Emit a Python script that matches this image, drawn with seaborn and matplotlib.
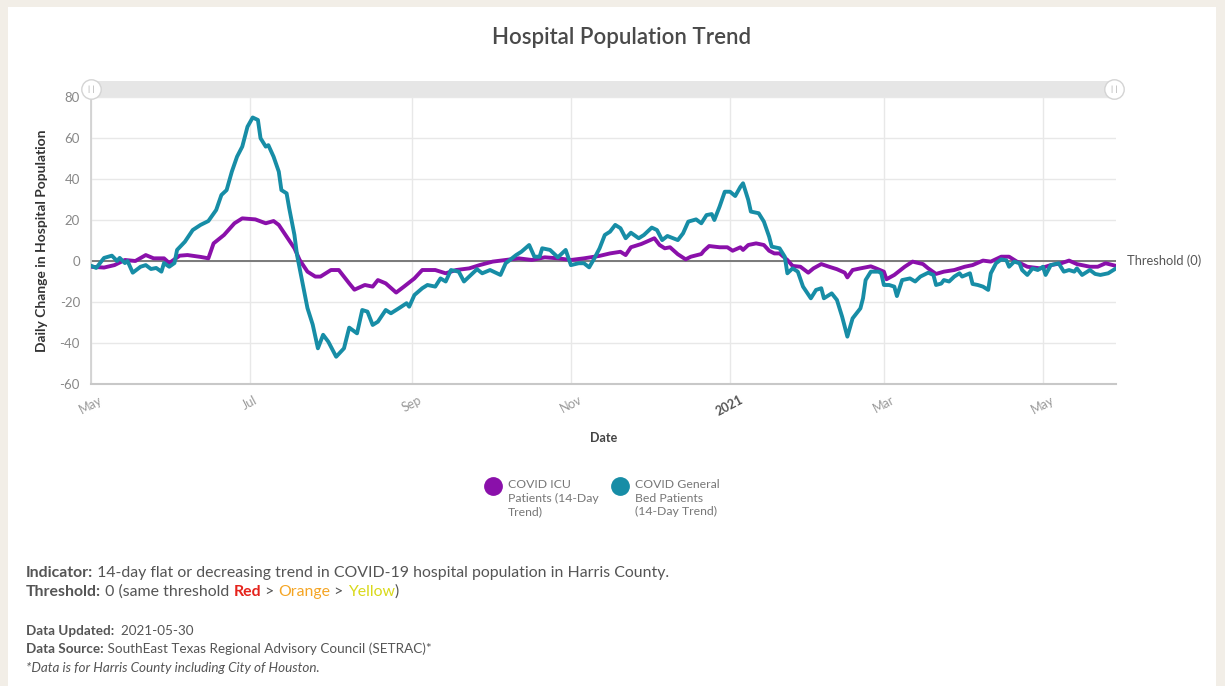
import pandas as pd
import matplotlib
matplotlib.use("Agg")
import matplotlib.pyplot as plt
import matplotlib.dates as mdates
from matplotlib.lines import Line2D
from matplotlib.patches import Rectangle
import seaborn as sns

# days after 2020-05-01
icu_days = [0, 5, 9, 13, 17, 21, 24, 28, 30, 34, 37, 42, 45, 47, 51, 55, 58, 63, 67, 70,
            72, 75, 78, 80, 83, 86, 88, 92, 95, 99, 101, 105, 108, 110, 113, 117, 120, 124, 127, 132,
            136, 140, 145, 149, 154, 159, 164, 169, 174, 179, 184, 189, 195, 199, 203, 205, 207, 211, 213, 216,
            218, 220, 222, 225, 228, 230, 234, 235, 237, 241, 244, 246, 249, 250, 252, 255, 258, 260, 262, 264,
            267, 269, 272, 275, 277, 280, 283, 286, 289, 290, 292, 295, 299, 301, 304, 305, 308, 312, 315, 319,
            321, 324, 327, 331, 335, 338, 342, 345, 349, 352, 355, 359, 364, 368, 372, 375, 378, 383, 386, 389,
            393]
icu_vals = [-2.8, -3.2, -2.0, 0.5, 0.0, 2.9, 1.3, 1.3, -1.0, 2.6, 2.9, 2.0, 1.3, 8.6, 12.7, 18.4, 20.8, 20.3, 18.4, 19.5,
            17.6, 11.9, 6.2, 0.5, -5.2, -7.6, -7.6, -4.4, -4.4, -10.9, -14.0, -11.7, -12.5, -9.3, -10.9, -15.4, -12.5, -8.5, -4.4, -4.4,
            -6.0, -4.4, -3.6, -2.0, -0.3, 0.5, 1.3, 0.5, 1.8, 1.3, 0.5, 1.3, 2.5, 3.7, 4.5, 2.9, 6.7, 8.3, 9.4, 11.1,
            7.8, 6.2, 6.7, 3.3, 0.8, 2.1, 3.4, 5.0, 7.3, 6.7, 6.7, 5.0, 6.7, 5.4, 7.8, 8.6, 7.8, 5.0, 3.7, 3.7,
            0.5, -2.4, -2.8, -5.7, -3.6, -1.5, -2.8, -4.0, -5.7, -8.0, -4.4, -3.6, -2.6, -3.6, -5.2, -8.9, -6.8, -2.8, -0.3, -1.5,
            -3.6, -6.3, -5.2, -4.4, -2.8, -2.0, 0.2, -0.3, 2.1, 2.1, -0.3, -2.8, -3.6, -2.0, -1.1, 0.2, -1.5, -2.8, -2.8, -1.1,
            -2.4]

gen_days = [0, 2, 5, 8, 10, 11, 13, 14, 16, 19, 21, 23, 25, 27, 28, 30, 32, 33, 36, 39,
            42, 45, 48, 50, 52, 54, 56, 58, 60, 62, 64, 65, 67, 68, 70, 72, 73, 75, 76, 78,
            79, 81, 83, 85, 87, 89, 91, 94, 97, 99, 102, 104, 106, 108, 110, 113, 115, 118, 121, 122,
            124, 127, 129, 132, 134, 136, 138, 141, 143, 145, 148, 150, 153, 157, 159, 163, 165, 168, 170, 172,
            173, 176, 179, 182, 184, 187, 189, 191, 193, 195, 197, 199, 201, 203, 205, 207, 210, 212, 215, 217,
            219, 221, 225, 227, 229, 232, 234, 236, 238, 239, 241, 243, 245, 247, 249, 250, 252, 253, 256, 258,
            260, 261, 264, 266, 267, 269, 271, 273, 276, 278, 280, 281, 284, 286, 288, 290, 292, 295, 296, 297,
            299, 302, 303, 304, 306, 308, 309, 311, 314, 316, 318, 321, 323, 324, 326, 327, 329, 331, 333, 334,
            337, 338, 340, 342, 344, 345, 347, 349, 351, 352, 354, 356, 357, 359, 361, 363, 365, 366, 368, 371,
            373, 375, 377, 378, 380, 383, 385, 387, 390, 393]
gen_vals = [-2.3, -3.4, 1.5, 2.6, 0.0, 1.5, -1.0, 0.0, -5.7, -2.8, -2.0, -3.9, -3.4, -5.2, -1.0, -2.8, -1.0, 5.4, 9.4, 15.1,
            17.6, 19.5, 24.9, 32.2, 34.6, 43.6, 50.9, 55.8, 65.5, 70.0, 68.8, 59.9, 55.8, 56.5, 50.9, 43.6, 34.6, 33.0, 25.7, 12.7,
            2.9, -10.0, -23.0, -31.0, -42.6, -36.0, -39.4, -46.7, -42.6, -32.5, -35.3, -23.9, -24.7, -31.2, -29.6, -23.9, -25.5, -23.1, -20.6, -22.3,
            -16.6, -13.3, -11.7, -12.5, -8.5, -10.0, -4.4, -5.2, -10.0, -7.6, -4.0, -6.0, -4.4, -6.8, -1.1, 2.9, 4.5, 7.8, 2.1, 2.1,
            6.2, 5.4, 1.8, 5.4, -2.0, -1.1, -1.1, -3.1, 1.3, 6.2, 12.7, 14.3, 17.6, 16.0, 11.1, 13.8, 11.1, 12.7, 16.3, 15.1,
            10.2, 12.2, 10.2, 13.5, 19.2, 20.3, 18.4, 22.4, 22.9, 20.0, 26.5, 33.8, 33.8, 31.7, 36.2, 37.9, 29.8, 24.1, 23.3, 19.2,
            11.9, 7.0, 6.2, 2.1, -6.0, -3.6, -5.2, -12.5, -18.2, -14.1, -13.3, -18.2, -15.8, -19.0, -27.2, -36.9, -28.0, -23.1, -18.2, -9.3,
            -5.2, -5.2, -6.0, -11.7, -11.7, -12.5, -17.1, -9.3, -8.5, -10.0, -7.6, -5.7, -6.8, -11.7, -11.0, -9.3, -10.0, -7.6, -6.0, -7.6,
            -6.0, -11.2, -11.7, -12.5, -14.1, -6.0, -1.1, 0.8, 0.3, -2.8, -0.3, -1.1, -4.4, -6.8, -3.6, -4.4, -2.8, -6.8, -2.0, -1.1,
            -5.2, -4.4, -5.2, -3.6, -6.8, -4.4, -6.3, -6.8, -6.0, -3.6]

series_names = ["COVID ICU Patients (14-Day Trend)", "COVID General Bed Patients (14-Day Trend)"]
legend_labels = ["COVID ICU\nPatients (14-Day\nTrend)", "COVID General\nBed Patients\n(14-Day Trend)"]
series_colors = ["#8a10aa", "#178da6"]
y_ticks = [-60, -40, -20, 0, 20, 40, 60, 80]
x_tick_labels = ["May", "Jul", "Sep", "Nov", "2021", "Mar", "May"]

start = pd.Timestamp("2020-05-01")
df = pd.concat([
    pd.DataFrame({"date": start + pd.to_timedelta(icu_days, unit="D"), "value": icu_vals, "series": series_names[0]}),
    pd.DataFrame({"date": start + pd.to_timedelta(gen_days, unit="D"), "value": gen_vals, "series": series_names[1]}),
])

sns.set_theme(style="white")
plt.rcParams["font.family"] = ["Lato", "DejaVu Sans"]
plt.rcParams["axes.unicode_minus"] = False

W, H = 1225, 686
fig = plt.figure(figsize=(W / 100, H / 100), dpi=100, facecolor="#f2eee7")
fig.patches.append(Rectangle((8 / W, 0), (1216 - 8) / W, 1 - 7 / H, transform=fig.transFigure,
                             facecolor="white", edgecolor="none", zorder=-10))

ax = fig.add_axes([91 / W, 1 - 384 / H, (1116 - 91) / W, (384 - 97) / H])
ax.set_facecolor("white")

sns.lineplot(data=df, x="date", y="value", hue="series", palette=series_colors,
             hue_order=series_names, estimator=None, linewidth=2.8, legend=False, ax=ax, zorder=3)

ax.axhline(0, color="#7a7a7a", lw=1.4, zorder=2)
ax.annotate("Threshold (0)", xy=(1, 0), xycoords=("axes fraction", "data"), xytext=(8, 0),
            textcoords="offset points", va="center", ha="left", fontsize=9.3, color="#555555")

ax.set_ylim(-60, 80)
ax.set_yticks(y_ticks)
ax.set_xlim(start, start + pd.Timedelta(days=393))
ax.xaxis.set_major_locator(mdates.MonthLocator(bymonth=[1, 3, 5, 7, 9, 11]))
ax.set_xticklabels(x_tick_labels)
ax.tick_params(axis="x", colors="#999999", labelsize=9, length=5, width=1, color="#cccccc", pad=2)
ax.tick_params(axis="y", colors="#888888", labelsize=9.5, length=5, width=1, color="#dddddd", pad=3)
for lab in ax.get_xticklabels():
    lab.set_rotation(28)
    lab.set_ha("center")
    if lab.get_text() == "2021":
        lab.set_fontweight("bold")
        lab.set_color("#555555")

ax.grid(True, color="#e8e8e8", lw=1)
for s in ["top", "right"]:
    ax.spines[s].set_visible(False)
ax.spines["left"].set_color("#d0d0d0")
ax.spines["bottom"].set_color("#c8c8c8")
ax.spines["bottom"].set_linewidth(1.5)

ax.set_xlabel("Date", fontsize=9, fontweight="bold", color="#444444", labelpad=10)
ax.set_ylabel("Daily Change in Hospital Population", fontsize=10, fontweight="bold", color="#333333", labelpad=8)

# scroll bar above the plot
fig.patches.append(Rectangle((91 / W, 1 - 97 / H), (1116 - 91) / W, 16 / H, transform=fig.transFigure,
                             facecolor="#e6e6e6", edgecolor="none"))
for hx in [91, 1114]:
    fig.add_artist(Line2D([hx / W], [1 - 89 / H], transform=fig.transFigure, marker="o", markersize=14,
                          markerfacecolor="white", markeredgecolor="#d4d4d4", markeredgewidth=1))
    fig.text(hx / W, 1 - 89 / H, "| |", ha="center", va="center", fontsize=6, color="#aaaaaa")

fig.text(622 / W, 1 - 37 / H, "Hospital Population Trend", ha="center", va="center",
         fontsize=16, fontweight="semibold", color="#4a4a4a")

# legend
for i, (lab, col) in enumerate(zip(legend_labels, series_colors)):
    cx = [493, 620][i]
    fig.add_artist(Line2D([cx / W], [1 - 486 / H], transform=fig.transFigure, marker="o",
                          markersize=12.5, color=col, linestyle="none"))
    fig.text((cx + 15) / W, 1 - 479 / H, lab, ha="left", va="top", fontsize=8.8,
             color="#777777", linespacing=1.3)

# footer text, pieces chained left to right
grey = "#555555"
rows = [
    ([("Indicator:", grey, "bold", "normal"),
      (" 14-day flat or decreasing trend in COVID-19 hospital population in Harris County.", grey, "normal", "normal")], 580, 11.4),
    ([("Threshold:", grey, "bold", "normal"), (" 0 (same threshold ", grey, "normal", "normal"),
      ("Red", "#e5231c", "bold", "normal"), (" > ", grey, "normal", "normal"),
      ("Orange", "#f5a524", "normal", "normal"), (" > ", grey, "normal", "normal"),
      ("Yellow", "#d9d91a", "normal", "normal"), (")", grey, "normal", "normal")], 599, 11.4),
    ([("Data Updated:", grey, "bold", "normal"), ("  2021-05-30", grey, "normal", "normal")], 637, 9.7),
    ([("Data Source:", grey, "bold", "normal"),
      (" SouthEast Texas Regional Advisory Council (SETRAC)*", grey, "normal", "normal")], 655, 9.7),
    ([("*Data is for Harris County including City of Houston.", grey, "normal", "italic")], 674, 9.7),
]
for parts, y, size in rows:
    last = fig.text(26 / W, 1 - y / H, parts[0][0], ha="left", va="bottom", fontsize=size,
                    color=parts[0][1], fontweight=parts[0][2], fontstyle=parts[0][3])
    for txt, color, weight, style in parts[1:]:
        last = ax.annotate(txt, xy=(1, 0), xycoords=last, va="bottom", ha="left", fontsize=size,
                           color=color, fontweight=weight, fontstyle=style, annotation_clip=False)

fig.savefig("out.png", dpi=100, facecolor=fig.get_facecolor())
